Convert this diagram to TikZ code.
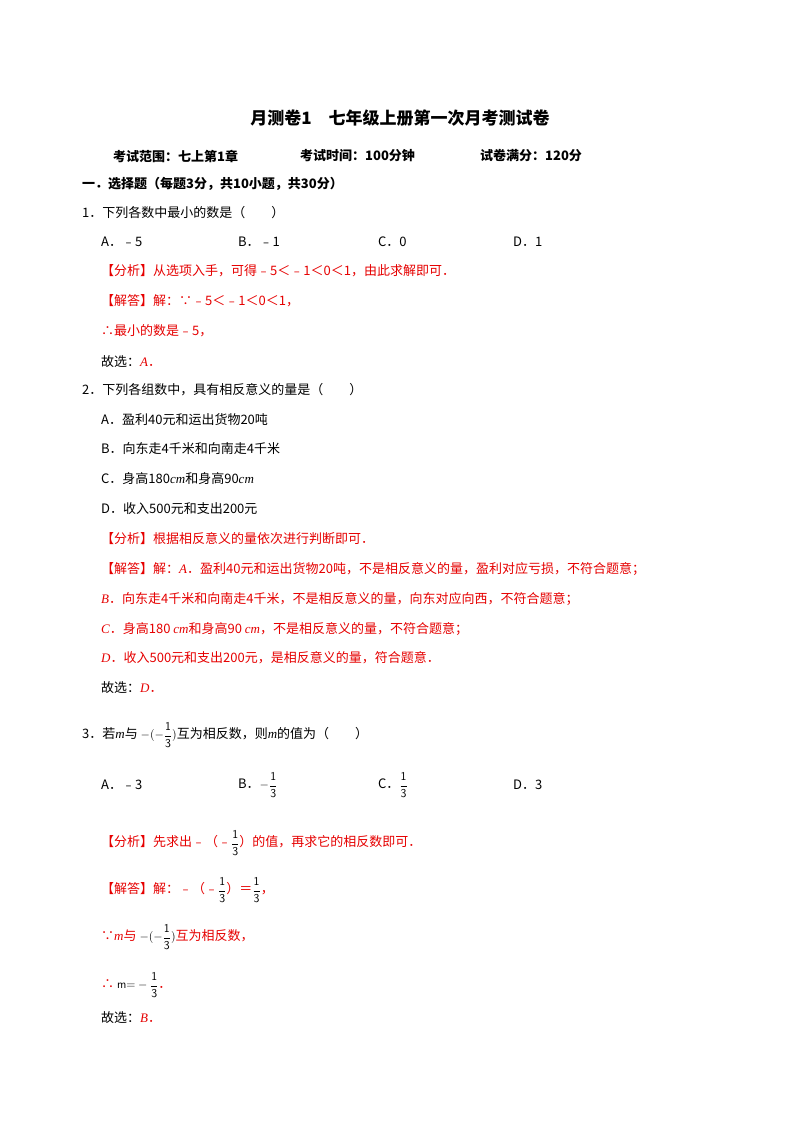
\documentclass[tikz,border=0pt]{standalone}
\usepackage{fontspec}
\usepackage{amsmath}
\setmainfont{Noto Sans CJK SC}
\newfontfamily\serifnum{Liberation Serif}
\newcommand\itl[1]{{\serifnum\itshape #1}}
\newcommand\fr[1]{{\large$#1\dfrac{\mathsf{1}}{\mathsf{3}}$}}
\definecolor{ansred}{RGB}{230,0,0}
\begin{document}
\begin{tikzpicture}[x=1pt,y=-1pt,
  tx/.style={anchor=west,inner sep=0pt,font=\fontsize{13}{15}\selectfont},
  rd/.style={tx,text=ansred},
  bd/.style={tx,font=\fontsize{13}{15}\selectfont\bfseries}]
\useasboundingbox[fill=white] (0,0) rectangle (800,1132);
\node[inner sep=0pt,font=\fontsize{17}{19}\selectfont\bfseries] (title) at (400,118) {月测卷1\quad 七年级上册第一次月考测试卷};
\node[bd] (s1) at (113,156) {考试范围：七上第1章};
\node[bd] (s2) at (300,156) {考试时间：100分钟};
\node[bd] (s3) at (480,156) {试卷满分：120分};
\node[bd] (sec) at (82,184) {一．选择题（每题3分，共10小题，共30分）};
\node[tx] (q1) at (82,213) {1．下列各数中最小的数是（\qquad ）};
\node[tx] (q1a) at (101,242) {A．﹣5};
\node[tx] (q1b) at (238,242) {B．﹣1};
\node[tx] (q1c) at (378,242) {C．0};
\node[tx] (q1d) at (513,242) {D．1};
\node[rd] (q1f) at (101,271) {【分析】从选项入手，可得﹣5＜﹣1＜0＜1，由此求解即可．};
\node[rd] (q1j) at (101,301) {【解答】解：∵﹣5＜﹣1＜0＜1，};
\node[rd] (q1k) at (101,331) {∴最小的数是﹣5，};
\node[tx] (q1s) at (101,362) {故选：\textcolor{ansred}{\itl{A}．}};
\node[tx] (q2) at (82,390) {2．下列各组数中，具有相反意义的量是（\qquad ）};
\node[tx] (q2a) at (101,420) {A．盈利40元和运出货物20吨};
\node[tx] (q2b) at (101,449) {B．向东走4千米和向南走4千米};
\node[tx] (q2c) at (101,479) {C．身高180\itl{cm}和身高90\itl{cm}};
\node[tx] (q2d) at (101,509) {D．收入500元和支出200元};
\node[rd] (q2f) at (101,539) {【分析】根据相反意义的量依次进行判断即可．};
\node[rd] (q2j) at (101,569) {【解答】解：\itl{A}．盈利40元和运出货物20吨，不是相反意义的量，盈利对应亏损，不符合题意；};
\node[rd] (q2jb) at (101,599) {\itl{B}．向东走4千米和向南走4千米，不是相反意义的量，向东对应向西，不符合题意；};
\node[rd] (q2jc) at (101,629) {\itl{C}．身高180 \itl{cm}和身高90 \itl{cm}，不是相反意义的量，不符合题意；};
\node[rd] (q2jd) at (101,658) {\itl{D}．收入500元和支出200元，是相反意义的量，符合题意．};
\node[tx] (q2s) at (101,688) {故选：\textcolor{ansred}{\itl{D}．}};
\node[tx] (q3) at (82,735) {3．若\itl{m}与 {\large$-(-\dfrac{\mathsf{1}}{\mathsf{3}})$}互为相反数，则\itl{m}的值为（\qquad ）};
\node[tx] (q3a) at (101,785) {A．﹣3};
\node[tx] (q3b) at (238,785) {B．\fr{-}};
\node[tx] (q3c) at (378,785) {C．\fr{}};
\node[tx] (q3d) at (513,785) {D．3};
\node[rd] (q3f) at (101,843) {【分析】先求出﹣（﹣\textcolor{black}{\fr{}}）的值，再求它的相反数即可．};
\node[rd] (q3j) at (101,890) {【解答】解：﹣（﹣\textcolor{black}{\fr{}}）＝\textcolor{black}{\fr{}}，};
\node[rd] (q3k) at (101,937) {∵\itl{m}与 \textcolor{black}{\large$-(-\dfrac{\mathsf{1}}{\mathsf{3}})$}互为相反数，};
\node[rd] (q3l) at (101,985) {∴ \textcolor{black}{\large$\mathsf{m}{=}-\dfrac{\mathsf{1}}{\mathsf{3}}$}．};
\node[tx] (q3s) at (101,1018) {故选：\textcolor{ansred}{\itl{B}．}};
\end{tikzpicture}
\end{document}
